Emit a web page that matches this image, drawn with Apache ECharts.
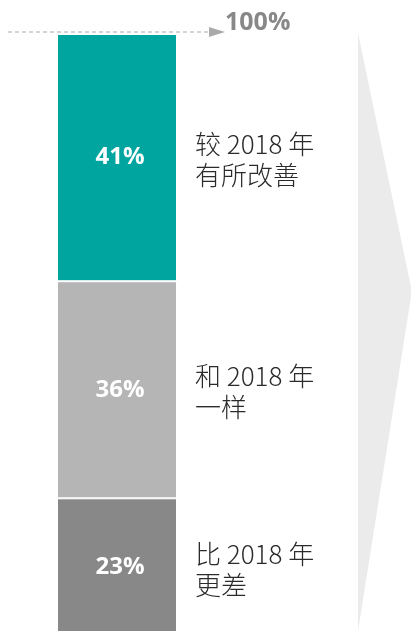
<!DOCTYPE html>
<html>
<head>
<meta charset="utf-8">
<script src="https://cdn.jsdelivr.net/npm/echarts@6/dist/echarts.min.js"></script>
<style>
  html, body { margin: 0; padding: 0; background: #fff; }
  #chart { width: 411px; height: 631px; }
</style>
</head>
<body>
<div id="chart"></div>
<script>
// data, bottom to top
const segNames = ['比 2018 年\n更差', '和 2018 年\n一样', '较 2018 年\n有所改善']
const segValues = [23, 36, 41]
const segColors = ['#888888', '#b4b5b4', '#00a5a0']
const totalLabel = '100%'

const chart = echarts.init(document.getElementById('chart'))

// each series = one segment; 2nd category is an invisible bar only used to hold the side text
const series = segValues.map((v, i) => ({
  name: segNames[i],
  type: 'bar',
  stack: 'all',
  barWidth: '100%',
  data: [
    {
      value: v,
      itemStyle: { color: segColors[i], borderColor: '#fff', borderWidth: 1 },
      label: {
        position: 'inside',
        offset: [3, 0],
        color: '#fff',
        fontSize: 24,
        fontWeight: 'bold',
        fontFamily: 'Open Sans'
      }
    },
    {
      value: v,
      itemStyle: { color: 'rgba(0,0,0,0)' },
      label: {
        position: 'insideLeft',
        offset: [13, 2],
        color: '#2b2b2b',
        fontSize: 26,
        lineHeight: 31,
        fontWeight: 300,
        fontFamily: 'Noto Sans CJK SC'
      }
    }
  ],
  label: {
    show: true,
    formatter: p => p.dataIndex === 0 ? v + '%' : segNames[i]
  }
}))

chart.setOption({
  animation: false,
  // bar runs a little past the bottom edge, as in the original
  grid: { left: 57, top: 34, width: 240, height: 603, outerBoundsMode: 'none' },
  xAxis: {
    type: 'category',
    data: ['bar', 'text'],
    show: false
  },
  yAxis: {
    type: 'value',
    min: 0,
    max: 100,
    show: false
  },
  series: series
})

// decorations: dashed arrow to 100% and the big chevron on the right
const yTop = chart.convertToPixel({ yAxisIndex: 0 }, 100) - 2
chart.setOption({
  graphic: [
    {
      type: 'polygon',
      z: -1,
      shape: { points: [[358, 33], [411, 287], [411, 297], [358, 631]] },
      style: { fill: '#ebebeb' }
    },
    {
      type: 'line',
      shape: { x1: 8, y1: yTop, x2: 212, y2: yTop },
      style: { stroke: '#aaa', lineWidth: 1, lineDash: [4, 3] }
    },
    {
      type: 'polygon',
      shape: { points: [[209, yTop - 5], [225, yTop], [209, yTop + 5]] },
      style: { fill: '#aaa' }
    },
    {
      type: 'text',
      x: 225,
      y: yTop - 9,
      style: {
        text: totalLabel,
        fill: '#888',
        font: 'bold 25px "Open Sans"',
        verticalAlign: 'middle'
      }
    }
  ]
})
</script>
</body>
</html>
